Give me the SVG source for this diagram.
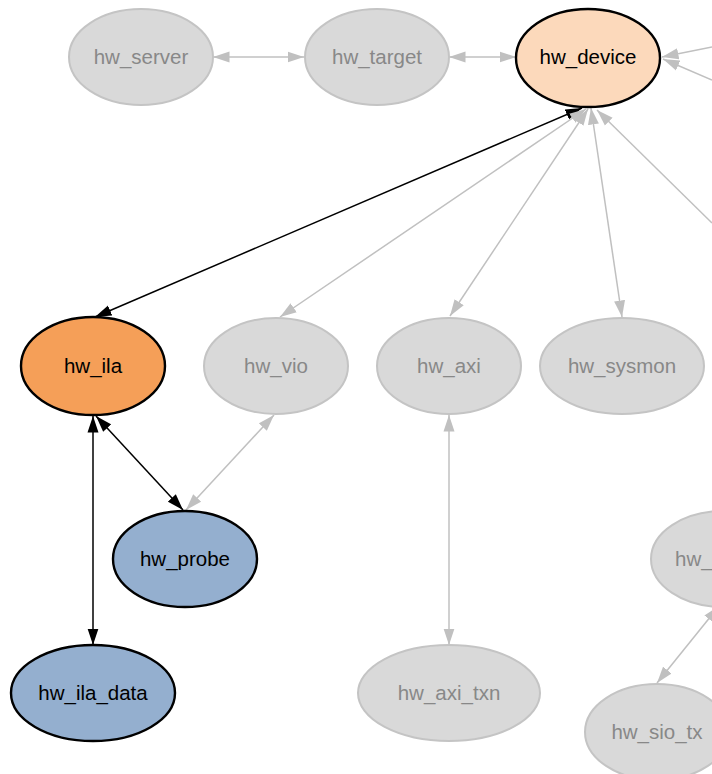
<svg xmlns="http://www.w3.org/2000/svg" width="712" height="774" viewBox="0 0 712 774">
<style>
.g ellipse{fill:#d9d9d9;stroke:#c4c4c4;stroke-width:2}
.g text{fill:#888888}
text{font-family:"Liberation Sans",Arial,sans-serif;font-size:20.5px;text-anchor:middle}
.k ellipse{stroke:#000;stroke-width:2.4}
.k text{fill:#000}
.eg{stroke:#c0c0c0;stroke-width:1.5;fill:none;marker-start:url(#ag);marker-end:url(#ag)}
.ek{stroke:#000;stroke-width:1.5;fill:none;marker-start:url(#ak);marker-end:url(#ak)}
.e1{stroke:#c0c0c0;stroke-width:1.5;fill:none;marker-end:url(#ag)}
</style>
<defs>
<marker id="ag" markerUnits="userSpaceOnUse" markerWidth="17" markerHeight="12" refX="16.5" refY="6" orient="auto-start-reverse" viewBox="0 0 17 12"><path d="M0,0.5 L16.5,6 L0,11.5 z" fill="#c0c0c0"/></marker>
<marker id="ak" markerUnits="userSpaceOnUse" markerWidth="17" markerHeight="12" refX="16.5" refY="6" orient="auto-start-reverse" viewBox="0 0 17 12"><path d="M0,0.5 L16.5,6 L0,11.5 z" fill="#000"/></marker>
</defs>
<rect width="712" height="774" fill="#fff"/>
<g id="edges">
<path class="eg" d="M213,57 L304,57"/>
<path class="eg" d="M449,57 L516,57"/>
<path class="e1" d="M712,47 L662,57"/>
<path class="e1" d="M712,80 L663,59"/>
<path class="ek" d="M582,108 L95,317"/>
<path class="eg" d="M586,109 L280,317"/>
<path class="eg" d="M588,109 L450,316"/>
<path class="eg" d="M591,108 L622,317"/>
<path class="e1" d="M712,223 L597,110"/>
<path class="ek" d="M96,416 L183,510"/>
<path class="eg" d="M274,415 L186,510"/>
<path class="ek" d="M93,416 L93,645"/>
<path class="eg" d="M449,415 L449,645"/>
<path class="eg" d="M719,606 L657,683"/>
</g>
<g id="hw_server" class="g"><ellipse cx="141" cy="57" rx="72" ry="48"/><text x="141" y="64">hw_server</text></g>
<g id="hw_target" class="g"><ellipse cx="377" cy="57" rx="72" ry="48"/><text x="377" y="64">hw_target</text></g>
<g id="hw_device" class="k"><ellipse cx="588" cy="58" rx="72" ry="49" fill="#fcd9bb"/><text x="588" y="64">hw_device</text></g>
<g id="hw_ila" class="k"><ellipse cx="93" cy="366" rx="72" ry="49" fill="#f59f58"/><text x="93" y="373">hw_ila</text></g>
<g id="hw_vio" class="g"><ellipse cx="276" cy="366" rx="72" ry="48"/><text x="276" y="373">hw_vio</text></g>
<g id="hw_axi" class="g"><ellipse cx="449" cy="366" rx="72" ry="48"/><text x="449" y="373">hw_axi</text></g>
<g id="hw_sysmon" class="g"><ellipse cx="622" cy="366" rx="82" ry="48"/><text x="622" y="373">hw_sysmon</text></g>
<g id="hw_probe" class="k"><ellipse cx="185" cy="559" rx="72" ry="48" fill="#94afcf"/><text x="185" y="566">hw_probe</text></g>
<g id="hw_sio" class="g"><ellipse cx="723" cy="559" rx="72" ry="48"/><text x="675" y="566" style="text-anchor:start">hw_</text></g>
<g id="hw_ila_data" class="k"><ellipse cx="93" cy="693" rx="82" ry="48" fill="#94afcf"/><text x="93" y="700">hw_ila_data</text></g>
<g id="hw_axi_txn" class="g"><ellipse cx="449" cy="693" rx="91" ry="48"/><text x="449" y="700">hw_axi_txn</text></g>
<g id="hw_sio_tx" class="g"><ellipse cx="657" cy="732" rx="72" ry="48"/><text x="657" y="739">hw_sio_tx</text></g>
</svg>
